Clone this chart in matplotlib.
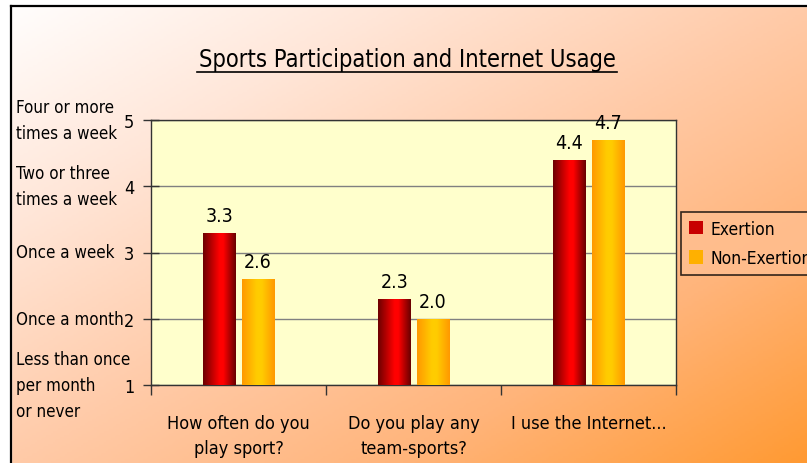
import numpy as np
import matplotlib
matplotlib.use("Agg")
import matplotlib.pyplot as plt
from matplotlib.colors import LinearSegmentedColormap
from matplotlib.lines import Line2D
from matplotlib.patches import Patch

plt.rcParams['font.family'] = ['DejaVu Sans']
plt.rcParams['font.stretch'] = 'condensed'

# Data
categories = ["How often do you\nplay sport?", "Do you play any\nteam-sports?", "I use the Internet..."]
exertion = [3.3, 2.3, 4.4]
non_exertion = [2.6, 2.0, 4.7]
series_names = ["Exertion", "Non-Exertion"]
ytick_values = [1, 2, 3, 4, 5]
ytick_words = ["Less than once\nper month\nor never", "Once a month", "Once a week",
               "Two or three\ntimes a week", "Four or more\ntimes a week"]

W, H = 807, 464
fig = plt.figure(figsize=(W / 100, H / 100), dpi=100)

# Diagonal white-to-orange backdrop
bg = fig.add_axes([0, 0, 1, 1], zorder=-10)
yy, xx = np.mgrid[0:1:200j, 0:1:350j]
t = (xx + yy) / 2
bg_cmap = LinearSegmentedColormap.from_list(
    "bg", [(0, "#ffffff"), (0.25, "#ffe6d8"), (0.5, "#ffcba9"), (0.75, "#ffb47a"), (1, "#ff9a33")])
bg.imshow(t, cmap=bg_cmap, extent=[0, 1, 0, 1], aspect='auto', origin='upper', vmin=0, vmax=1)
bg.set_axis_off()
bg.add_patch(plt.Rectangle((0, 0), 11 / W, 1, color='white', zorder=2))
bg.add_patch(plt.Rectangle((0, 1 - 7 / H), 1, 7 / H, color='white', zorder=2))
bg.plot([11 / W, 11 / W], [0, 1 - 7 / H], color='black', lw=1.6, zorder=3)
bg.plot([11 / W, 1], [1 - 7 / H, 1 - 7 / H], color='black', lw=1.6, zorder=3)
bg.set_xlim(0, 1)
bg.set_ylim(0, 1)

ax = fig.add_axes([151 / W, 1 - 386 / H, 525 / W, 265 / H])
ax.set_facecolor("#ffffcc")
for s in ax.spines.values():
    s.set_color("#333333")
    s.set_linewidth(1.0)

x = np.arange(len(categories))
bw = 0.185
gap = 0.035
red_bars = ax.bar(x - bw / 2 - gap / 2, np.array(exertion) - 1, bw, bottom=1, color='#ff0000', zorder=3)
yel_bars = ax.bar(x + bw / 2 + gap / 2, np.array(non_exertion) - 1, bw, bottom=1, color='#ffcc00', zorder=3)

# cylinder-like shading across each bar
red_cmap = LinearSegmentedColormap.from_list("r", [(0, "#6e0000"), (0.5, "#ff0000"), (0.62, "#ff0000"), (1, "#6a0000")])
yel_cmap = LinearSegmentedColormap.from_list("y", [(0, "#ff9900"), (0.45, "#ffcc00"), (0.6, "#ffcc00"), (1, "#ff9900")])
grad = np.linspace(0, 1, 64).reshape(1, -1)
for bars, cmap in [(red_bars, red_cmap), (yel_bars, yel_cmap)]:
    for b in bars:
        x0, y0 = b.get_x(), b.get_y()
        im = ax.imshow(grad, cmap=cmap, aspect='auto', extent=[x0, x0 + b.get_width(), y0, y0 + b.get_height()],
                       zorder=4)
        im.set_clip_path(b)

ax.set_xlim(-0.5, len(categories) - 0.5)
ax.set_ylim(1, 5)
ax.set_yticks(ytick_values)
ax.set_yticklabels([str(v) for v in ytick_values], fontsize=13)
ax.tick_params(axis='y', direction='inout', length=12, width=1, color='#333333', pad=6)
ax.yaxis.grid(True, color='#808080', lw=1)
ax.set_axisbelow(True)

ax.set_xticks(np.arange(len(categories) + 1) - 0.5)
ax.set_xticklabels([])
ax.tick_params(axis='x', direction='out', length=7, width=1, color='#333333')
for i, c in enumerate(categories):
    ax.text(i, 0.56, c, ha='center', va='top', fontsize=13, linespacing=1.5)

for bars, vals in [(red_bars, exertion), (yel_bars, non_exertion)]:
    for b, v in zip(bars, vals):
        ax.text(b.get_x() + b.get_width() / 2, v + 0.12, f"{v:.1f}", ha='center', va='bottom',
                fontsize=14, zorder=6, clip_on=False)

for v, w in zip(ytick_values, ytick_words):
    fig.text(16 / W, 1 - (386 - (v - 1) * 66.25) / H, w,
             ha='left', va='center', fontsize=12.2, linespacing=1.55)

fig.text(407 / W, 1 - 60 / H, "Sports Participation and Internet Usage", ha='center', va='center', fontsize=17)
fig.add_artist(Line2D([197 / W, 617 / W], [1 - 73 / H, 1 - 73 / H], color='black', lw=1.2))

handles = [Patch(facecolor='#c80000', edgecolor='none'), Patch(facecolor='#ffb000', edgecolor='none')]
leg = fig.legend(handles, series_names, loc='upper left', bbox_to_anchor=(681 / W, 1 - 213 / H),
                 fontsize=12.5, frameon=True, fancybox=False, handlelength=0.8, handleheight=0.8,
                 handletextpad=0.45, borderpad=0.45, labelspacing=0.65, borderaxespad=0)
leg.get_frame().set_edgecolor('black')
leg.get_frame().set_facecolor('#ffbf90')
leg.get_frame().set_linewidth(1.2)

fig.savefig("out.png", dpi=100)
